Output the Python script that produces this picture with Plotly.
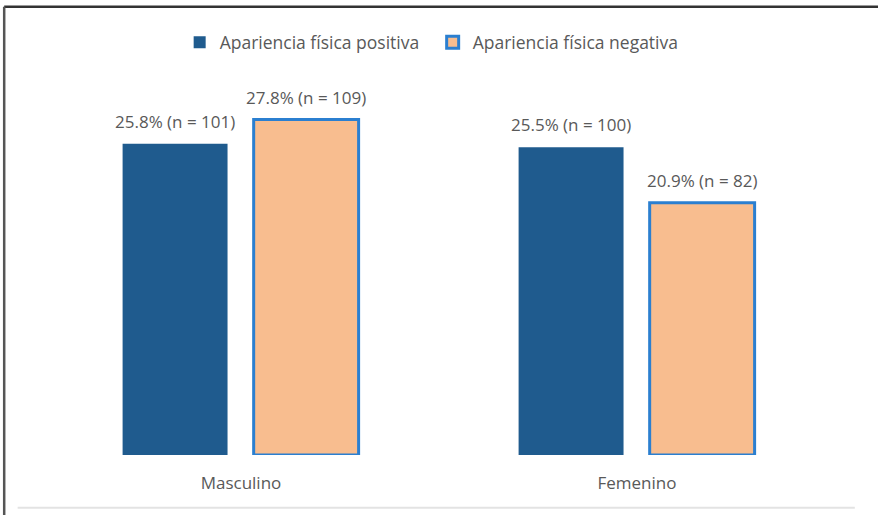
import plotly.graph_objects as go

categories = ["Masculino", "Femenino"]
series_names = ["Apariencia física positiva", "Apariencia física negativa"]
pct_pos = [25.8, 25.5]
n_pos = [101, 100]
pct_neg = [27.8, 20.9]
n_neg = [109, 82]

FONT = "Open Sans"
TXT = "#595959"
BAR_W = 0.265
OFF_POS = -0.299
OFF_NEG = 0.032

xs = list(range(len(categories)))

def labels(p, n):
    return [f"{a}% (n = {b})" for a, b in zip(p, n)]

fig = go.Figure()
fig.add_trace(go.Bar(
    x=xs, y=pct_pos, name=series_names[0],
    marker=dict(color="#1F5B8E", line=dict(color="#1F5B8E", width=0)),
    width=BAR_W, offset=OFF_POS,
))
fig.add_trace(go.Bar(
    x=xs, y=pct_neg, name=series_names[1],
    marker=dict(color="#F8BD8F", line=dict(color="#2B7FD0", width=3)),
    width=BAR_W, offset=OFF_NEG,
))

annotations = []
for off, vals, ns in [(OFF_POS, pct_pos, n_pos), (OFF_NEG, pct_neg, n_neg)]:
    for i, (v, t) in enumerate(zip(vals, labels(vals, ns))):
        annotations.append(dict(
            x=xs[i] + off + BAR_W / 2, y=v, xref="x", yref="y",
            text=t, showarrow=False, yanchor="bottom", yshift=9,
            font=dict(size=17, color=TXT, family=FONT),
        ))

fig.update_layout(
    width=878, height=515,
    margin=dict(l=43, r=43, t=93, b=60),
    paper_bgcolor="white", plot_bgcolor="white",
    barmode="overlay",
    font=dict(family=FONT, size=17, color=TXT),
    showlegend=True,
    legend=dict(orientation="h", x=0.492, xanchor="center", y=1.14, yanchor="middle",
                font=dict(size=17.5, color=TXT, family=FONT), itemwidth=30,
                entrywidth=208, entrywidthmode="pixels",
                bgcolor="rgba(0,0,0,0)"),
    xaxis=dict(range=[-0.5, 1.5], tickvals=xs, ticktext=categories,
               showline=False, showgrid=False, zeroline=False, ticks="",
               ticklabelstandoff=16,
               tickfont=dict(size=17, color=TXT, family=FONT)),
    yaxis=dict(range=[0, 30], visible=False, showgrid=False, zeroline=False),
    annotations=annotations,
)

# Frame decorations
fig.add_shape(type="line", xref="paper", yref="paper",
              x0=-0.049, x1=1.06, y0=1.238, y1=1.238,
              line=dict(color="#333333", width=2.5))
fig.add_shape(type="line", xref="paper", yref="paper",
              x0=-0.049, x1=-0.049, y0=1.238, y1=-0.18,
              line=dict(color="#555555", width=2.5))
fig.add_shape(type="line", xref="paper", yref="paper",
              x0=-0.032, x1=1.025, y0=-0.146, y1=-0.146,
              line=dict(color="#E3E3E3", width=2))

fig.write_html("out.html", config={"displayModeBar": False},
               post_script="document.body.style.margin='0';document.body.style.padding='0';")
